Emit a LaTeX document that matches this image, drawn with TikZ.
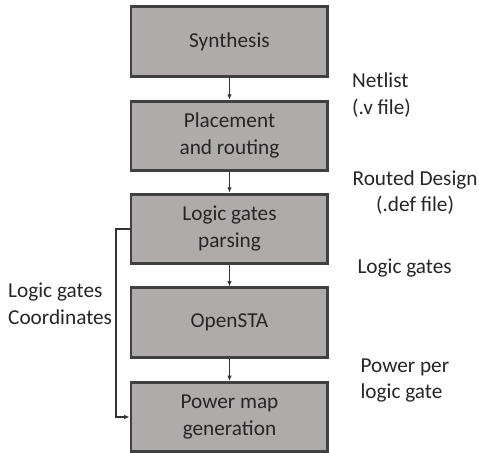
\documentclass[tikz,border=0pt]{standalone}
\usepackage{fontspec}
\setmainfont{Carlito}
\usetikzlibrary{arrows.meta}
\definecolor{boxgray}{RGB}{175,171,171}
\definecolor{edgegray}{RGB}{64,64,64}
\definecolor{txt}{RGB}{38,38,38}
\tikzset{
	stage/.style={draw=edgegray, line width=2.25pt, fill=boxgray, minimum width=52.1mm, minimum height=18.3mm, align=center, text=txt, font=\fontsize{16}{20}\selectfont},
	note/.style={text=txt, font=\fontsize{16}{20}\selectfont, inner sep=0pt},
	flow/.style={draw=black!80, line width=0.75pt, -{Latex[length=1.4mm,width=1.2mm]}}
}
\begin{document}
\begin{tikzpicture}
		\useasboundingbox (0,0) rectangle (126.7mm,119.6mm);
		%flow stages
		\node[stage] (synth) at (60.7mm,108.6mm) {Synthesis};
		\node[stage] (place) at (60.7mm,83.7mm) {Placement\\and routing};
		\node[stage] (parse) at (60.7mm,59.1mm) {Logic gates\\parsing};
		\node[stage] (sta) at (60.7mm,34.3mm) {OpenSTA};
		\node[stage] (pmap) at (60.7mm,9.3mm) {Power map\\generation};
		%connectors
		\draw[flow] (synth) -- (place);
		\draw[flow] (place) -- (parse);
		\draw[flow] (parse) -- (sta);
		\draw[flow] (sta) -- (pmap);
		\draw[flow, line width=1.5pt] (parse.west) -- ++(-3.7mm,0) |- (pmap.west);
		%data labels
		\node[note, anchor=west, align=left] (netlist) at (93.1mm,94.5mm) {Netlist\\(.v file)};
		\node[note, align=center] (routed) at (109.8mm,68.7mm) {Routed Design\\(.def file)};
		\node[note, anchor=west] (gates) at (94.5mm,48.7mm) {Logic gates};
		\node[note, anchor=west, align=left] (power) at (95.3mm,18.9mm) {Power per\\logic gate};
		\node[note, anchor=west, align=left] (coords) at (2.1mm,39.3mm) {Logic gates\\Coordinates};
	\end{tikzpicture}
\end{document}
